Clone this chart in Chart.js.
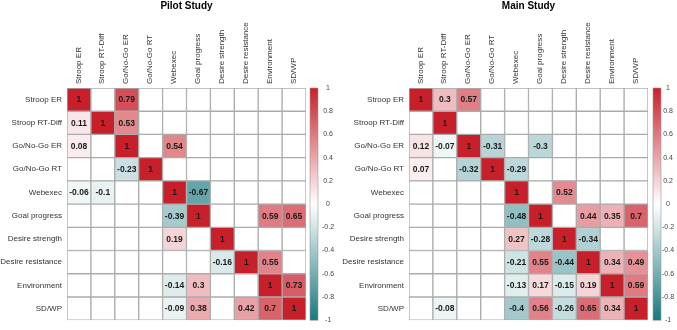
<!DOCTYPE html>
<html lang="en">
<head>
<meta charset="UTF-8">
<title>Correlation matrices</title>
<script src="https://cdn.jsdelivr.net/npm/chart.js"></script>
<style>
    body { margin: 0; background: #fff; }
    .painel { position: absolute; top: 0; }
</style>
</head>
<body>
    <div class="painel" style="left:0"><canvas id="pilot" width="340" height="330"></canvas></div>
    <div class="painel" style="left:340px"><canvas id="main" width="337" height="330"></canvas></div>
<script>
// variables (same for rows and columns)
const variaveis = ['Stroop ER', 'Stroop RT-Diff', 'Go/No-Go ER', 'Go/No-Go RT', 'Webexec',
    'Goal progress', 'Desire strength', 'Desire resistance', 'Environment', 'SD/WP'];

// pilot study correlations (null = blank cell)
const pilotR = [
    [1, null, 0.79, null, null, null, null, null, null, null],
    [0.11, 1, 0.53, null, null, null, null, null, null, null],
    [0.08, null, 1, null, 0.54, null, null, null, null, null],
    [null, null, -0.23, 1, null, null, null, null, null, null],
    [-0.06, -0.1, null, null, 1, -0.67, null, null, null, null],
    [null, null, null, null, -0.39, 1, null, null, 0.59, 0.65],
    [null, null, null, null, 0.19, null, 1, null, null, null],
    [null, null, null, null, null, null, -0.16, 1, 0.55, null],
    [null, null, null, null, -0.14, 0.3, null, null, 1, 0.73],
    [null, null, null, null, -0.09, 0.38, null, 0.42, 0.7, 1]
];

// main study correlations
const mainR = [
    [1, 0.3, 0.57, null, null, null, null, null, null, null],
    [null, 1, null, null, null, null, null, null, null, null],
    [0.12, -0.07, 1, -0.31, null, -0.3, null, null, null, null],
    [0.07, null, -0.32, 1, -0.29, null, null, null, null, null],
    [null, null, null, null, 1, null, 0.52, null, null, null],
    [null, null, null, null, -0.48, 1, null, 0.44, 0.35, 0.7],
    [null, null, null, null, 0.27, -0.28, 1, -0.34, null, null],
    [null, null, null, null, -0.21, 0.55, -0.44, 1, 0.34, 0.49],
    [null, null, null, null, -0.13, 0.17, -0.15, 0.19, 1, 0.59],
    [null, -0.08, null, null, -0.4, 0.56, -0.26, 0.65, 0.34, 1]
];

// colour bar tick labels
const escalaTicks = [1, 0.8, 0.6, 0.4, 0.2, 0, -0.2, -0.4, -0.6, -0.8, -1];

const vermelho = [200, 32, 42];
const azul = [24, 121, 128];
const fonte = '"Liberation Sans", Arial, sans-serif';

function corDe(v) {
    if (v === null) return '#ffffff';
    const alvo = v >= 0 ? vermelho : azul;
    const t = Math.abs(v);
    const c = alvo.map(x => Math.round(255 + (x - 255) * t));
    return `rgb(${c[0]}, ${c[1]}, ${c[2]})`;
}

const desenhos = {
    id: 'desenhos',
    afterDatasetsDraw(chart) {
        const ctx = chart.ctx;
        ctx.save();
        ctx.font = `bold 8.5px ${fonte}`;
        ctx.fillStyle = '#1a1a1a';
        ctx.textAlign = 'center';
        ctx.textBaseline = 'middle';
        chart.data.datasets.forEach((ds, di) => {
            const meta = chart.getDatasetMeta(di);
            meta.data.forEach((bar, ci) => {
                const v = ds.valores[ci];
                if (v === null) return;
                const p = bar.getCenterPoint();
                ctx.fillText(String(v), p.x, p.y + 0.5);
            });
        });
        ctx.restore();
    },
    afterDraw(chart) {
        const ctx = chart.ctx;
        const area = chart.chartArea;
        const o = chart.options.plugins.desenhos;
        ctx.save();
        // titulo
        ctx.font = `bold 10px ${fonte}`;
        ctx.fillStyle = '#000';
        ctx.textAlign = 'center';
        ctx.textBaseline = 'alphabetic';
        ctx.fillText(o.titulo, (area.left + area.right) / 2, 9);

        // barra de cores
        const cb = chart.scales.cb;
        const x0 = area.right + o.gap;
        const yTop = cb.getPixelForValue(1);
        const yBot = cb.getPixelForValue(-1);
        const grad = ctx.createLinearGradient(0, yTop, 0, yBot);
        grad.addColorStop(0, corDe(1));
        grad.addColorStop(0.5, '#ffffff');
        grad.addColorStop(1, corDe(-1));
        ctx.fillStyle = grad;
        ctx.fillRect(x0, yTop, 8, yBot - yTop);
        ctx.strokeStyle = '#9a9a9a';
        ctx.lineWidth = 0.6;
        ctx.strokeRect(x0, yTop, 8, yBot - yTop);

        ctx.font = `7px ${fonte}`;
        ctx.fillStyle = '#444';
        ctx.textBaseline = 'middle';
        escalaTicks.forEach(t => {
            ctx.fillText(String(t), area.right + o.rotulo, cb.getPixelForValue(t));
        });
        ctx.restore();
    }
};

function plotarMatriz(id, matriz, titulo, larguraY, direita, gap, rotulo) {
    const n = variaveis.length;
    const datasets = [];
    // stacked from bottom row up
    for (let r = n - 1; r >= 0; r--) {
        datasets.push({
            label: variaveis[r],
            data: variaveis.map(() => 1),
            valores: matriz[r],
            backgroundColor: matriz[r].map(corDe),
            borderColor: '#ababab',
            borderWidth: 1,
            borderSkipped: false,
            barPercentage: 1,
            categoryPercentage: 1
        });
    }

    const config = {
        type: 'bar',
        data: { labels: variaveis, datasets: datasets },
        options: {
            responsive: false,
            animation: false,
            layout: { padding: { top: 0, bottom: 4, left: 0, right: direita } },
            plugins: {
                legend: { display: false },
                tooltip: { enabled: false },
                desenhos: { titulo: titulo, gap: gap, rotulo: rotulo }
            },
            scales: {
                x: {
                    position: 'top',
                    stacked: true,
                    offset: true,
                    grid: { display: false, drawTicks: false },
                    border: { display: false },
                    ticks: {
                        minRotation: 90, maxRotation: 90, autoSkip: false, padding: 4,
                        labelOffset: 9,
                        color: '#333', font: { family: fonte, size: 8 }
                    },
                    afterFit: s => { s.height = 88; }
                },
                y: {
                    type: 'linear',
                    stacked: true,
                    min: 0,
                    max: n,
                    grid: { display: false, drawTicks: false },
                    border: { display: false },
                    afterBuildTicks: s => {
                        s.ticks = variaveis.map((v, i) => ({ value: n - 0.5 - i }));
                    },
                    ticks: {
                        autoSkip: false, padding: 5, color: '#333',
                        font: { family: fonte, size: 8 },
                        callback: v => variaveis[Math.round(n - 0.5 - v)]
                    },
                    afterFit: s => { s.width = larguraY; }
                },
                cb: { type: 'linear', position: 'right', display: false, min: -1, max: 1 }
            }
        },
        plugins: [desenhos]
    };

    return new Chart(document.getElementById(id), config);
}

plotarMatriz('pilot', pilotR, 'Pilot Study', 67, 34, 4, 22);
plotarMatriz('main', mainR, 'Main Study', 69, 29, 5, 20);
</script>
</body>
</html>
